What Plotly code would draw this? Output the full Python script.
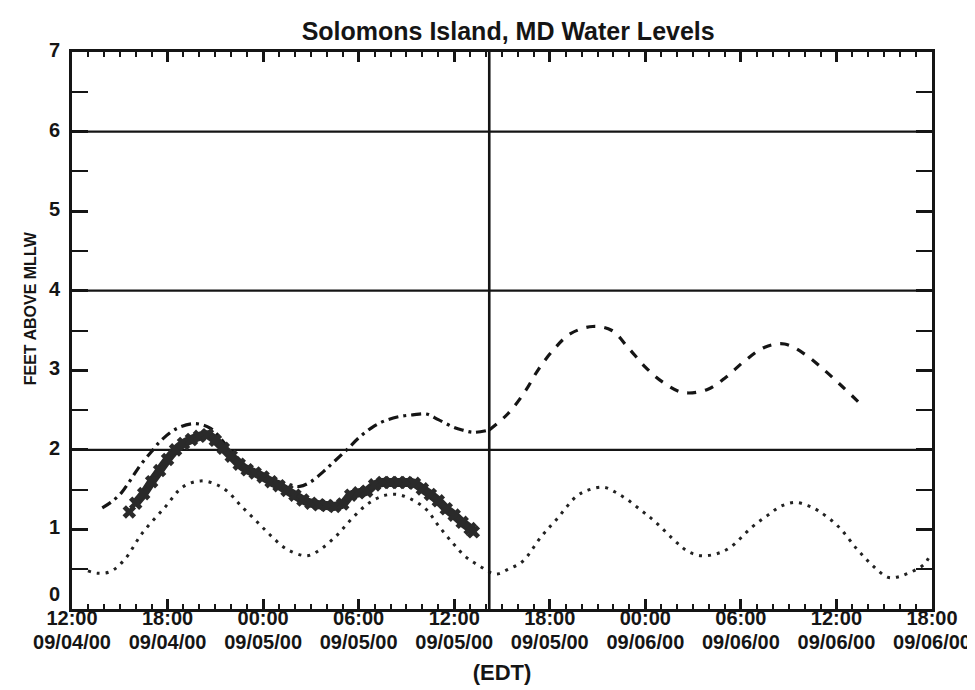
import pandas as pd
import plotly.graph_objects as go

# ---------------- data (hours after 09/04/00 12:00 EDT, feet above MLLW) ----------------
base_time = pd.Timestamp("2000-09-04 12:00")

pred_hours = [1.0, 1.6, 2.4, 3.3, 4.4, 5.8, 7.0, 8.1, 9.0, 9.75, 10.6, 11.6, 12.5, 13.5, 14.75,
              15.6, 16.6, 17.5, 18.5, 19.5, 20.4, 21.3, 22.25, 23.0, 23.9, 24.7, 25.6, 26.6,
              27.4, 28.3, 29.5, 30.4, 31.7, 32.5, 33.4, 34.1, 34.9, 35.8, 36.6, 38.0, 38.7,
              39.5, 40.4, 41.3, 42.7, 43.7, 44.5, 45.4, 46.2, 46.9, 48.1, 49.3, 50.2, 51.2,
              51.8, 52.4, 53.5, 53.9]
pred_level = [0.48, 0.45, 0.47, 0.62, 0.95, 1.27, 1.54, 1.61, 1.57, 1.48, 1.30, 1.10, 0.92, 0.75, 0.67,
              0.75, 0.92, 1.12, 1.31, 1.42, 1.44, 1.38, 1.25, 1.05, 0.83, 0.66, 0.54, 0.44,
              0.50, 0.60, 0.92, 1.12, 1.42, 1.50, 1.53, 1.47, 1.37, 1.23, 1.10, 0.83, 0.72,
              0.67, 0.69, 0.77, 1.03, 1.18, 1.29, 1.34, 1.30, 1.23, 1.04, 0.75, 0.56, 0.40,
              0.40, 0.44, 0.56, 0.69]

obs_hours = [3.6, 4.0, 4.5, 5.0, 5.5, 6.0, 6.5, 7.0, 7.5, 8.0, 8.5, 9.0, 9.5, 10.0, 10.5, 11.0,
             11.5, 12.0, 12.5, 13.0, 13.5, 14.0, 14.5, 15.0, 15.5, 16.0, 16.5, 17.0, 17.5, 18.0,
             18.5, 19.0, 19.5, 20.0, 20.5, 21.0, 21.5, 22.0, 22.5, 23.0, 23.5, 24.0, 24.5, 25.0, 25.2]
obs_level = [1.22, 1.33, 1.45, 1.60, 1.74, 1.88, 2.00, 2.08, 2.13, 2.17, 2.19, 2.12, 2.02, 1.92, 1.82, 1.75,
             1.71, 1.66, 1.60, 1.55, 1.49, 1.43, 1.37, 1.33, 1.31, 1.30, 1.29, 1.32, 1.43, 1.46,
             1.48, 1.56, 1.59, 1.59, 1.59, 1.59, 1.58, 1.51, 1.44, 1.36, 1.26, 1.18, 1.09, 1.01, 0.97]

adj_hours = [1.9, 2.5, 3.1, 3.7, 4.3, 5.0, 5.6, 6.6, 7.7, 8.7, 9.75, 10.5, 11.2, 12.0, 12.7, 13.5,
             14.3, 15.0, 15.8, 16.5, 17.25, 18.0, 18.9, 19.7, 20.6, 21.4, 22.25, 23.0, 23.9, 24.5,
             25.2, 26.2]
adj_level = [1.27, 1.35, 1.46, 1.63, 1.81, 1.98, 2.12, 2.27, 2.33, 2.27, 2.04, 1.88, 1.75, 1.67, 1.62, 1.57,
             1.54, 1.60, 1.73, 1.86, 2.00, 2.15, 2.29, 2.37, 2.42, 2.44, 2.45, 2.38, 2.29, 2.25,
             2.22, 2.25]

fcst_hours = [26.2, 27.4, 28.5, 29.25, 30.2, 31.3, 32.7, 33.9, 34.9, 36.0, 37.1, 38.4, 39.9, 41.1,
              42.25, 43.5, 44.75, 46.1, 47.25, 48.4, 49.6]
fcst_level = [2.25, 2.46, 2.75, 3.00, 3.25, 3.46, 3.55, 3.50, 3.29, 3.04, 2.85, 2.72, 2.76, 2.92,
              3.12, 3.29, 3.33, 3.19, 3.00, 2.79, 2.56]

now_hour = 26.2
grid_levels = [2, 4, 6]

tick_hours = [0, 6, 12, 18, 24, 30, 36, 42, 48, 54]
tick_time_labels = ["12:00", "18:00", "00:00", "06:00", "12:00", "18:00", "00:00", "06:00", "12:00", "18:00"]
tick_date_labels = ["09/04/00", "09/04/00", "09/05/00", "09/05/00", "09/05/00", "09/05/00",
                    "09/06/00", "09/06/00", "09/06/00", "09/06/00"]
y_ticks = [0, 1, 2, 3, 4, 5, 6, 7]
# the "0" label sits a little above its tick in the original (extra blank line lifts it)
y_tick_labels = ["0<br> ", "1", "2", "3", "4", "5", "6", "7"]


def to_time(hours):
    return [base_time + pd.Timedelta(hours=h) for h in hours]


INK = "#151515"
LABEL_FONT = dict(family="Liberation Sans, Arial, sans-serif", size=20, color=INK, weight="bold")

fig = go.Figure()

# predicted tide (dotted) - on overlay axis used for the date labels
fig.add_trace(go.Scatter(x=to_time(pred_hours), y=pred_level, mode="lines", xaxis="x2",
                         line=dict(color="#222", width=3, dash="3px,6px", shape="spline"),
                         showlegend=False, hoverinfo="skip"))
# adjusted prediction (dash-dot)
fig.add_trace(go.Scatter(x=to_time(adj_hours), y=adj_level, mode="lines",
                         line=dict(color=INK, width=3.2, dash="10px,5px,3px,5px", shape="spline"),
                         showlegend=False))
# forecast (dashed)
fig.add_trace(go.Scatter(x=to_time(fcst_hours), y=fcst_level, mode="lines",
                         line=dict(color=INK, width=3.2, dash="9px,9px", shape="spline"),
                         showlegend=False))
# observed (band of x markers)
fig.add_trace(go.Scatter(x=to_time(obs_hours[1:]), y=obs_level[1:], mode="lines",
                         line=dict(color="#2a2a2a", width=9, shape="spline"),
                         showlegend=False))
fig.add_trace(go.Scatter(x=to_time(obs_hours), y=obs_level, mode="markers",
                         marker=dict(symbol="x", size=12, color="#2a2a2a",
                                     line=dict(width=0)),
                         showlegend=False))

# grid lines and "now" line
for lvl in grid_levels:
    fig.add_shape(type="line", xref="paper", x0=0, x1=1, yref="y", y0=lvl, y1=lvl,
                  line=dict(color=INK, width=2.2), layer="below")
now_t = base_time + pd.Timedelta(hours=now_hour)
fig.add_shape(type="line", xref="x", x0=now_t, x1=now_t, yref="paper", y0=0, y1=1,
              line=dict(color=INK, width=2.6))

x_range = [base_time, base_time + pd.Timedelta(hours=54)]

fig.update_layout(
    width=975, height=690,
    margin=dict(l=64, r=45, t=44, b=89),
    paper_bgcolor="white", plot_bgcolor="white",
    title=dict(text="Solomons Island, MD Water Levels", x=0.513, xref="container", xanchor="center",
               y=1 - 23 / 690, yref="container", yanchor="middle",
               font=dict(family="Liberation Sans, Arial, sans-serif", size=25, color=INK, weight="bold")),
    xaxis=dict(type="date", range=x_range, tickmode="array", tickvals=to_time(tick_hours),
               ticktext=tick_time_labels, ticks="inside", ticklen=10, tickwidth=2.5, tickcolor=INK,
               minor=dict(ticks="inside", dtick=3600000, tick0=base_time, ticklen=5, tickwidth=2,
                          tickcolor=INK, showgrid=False),
               showline=True, linecolor=INK, linewidth=3, mirror="allticks", showgrid=False,
               zeroline=False, tickfont=LABEL_FONT, ticklabelstandoff=-11, fixedrange=True),
    xaxis2=dict(type="date", overlaying="x", matches="x", side="bottom", anchor="y",
                tickmode="array", tickvals=to_time(tick_hours), ticktext=tick_date_labels,
                ticks="", showline=False, showgrid=False, zeroline=False,
                tickfont=LABEL_FONT, ticklabelstandoff=19,
                title=dict(text="(EDT)", standoff=12,
                           font=dict(family="Liberation Sans, Arial, sans-serif", size=22,
                                     color=INK, weight="bold"))),
    yaxis=dict(range=[0, 7], tickmode="array", tickvals=y_ticks, ticktext=y_tick_labels,
               ticks="inside", ticklen=16, tickwidth=2.5, tickcolor=INK,
               minor=dict(ticks="inside", dtick=0.5, ticklen=8, tickwidth=2, tickcolor=INK, showgrid=False),
               showline=True, linecolor=INK, linewidth=3, mirror="allticks", showgrid=False,
               zeroline=False, tickfont=LABEL_FONT, ticklabelstandoff=5, ticklabelshift=-2,
               fixedrange=True),
    annotations=[dict(text="FEET ABOVE MLLW", textangle=-90, xref="paper", yref="paper",
                      x=(22 - 64) / 866, y=(601 - 300) / 557, xanchor="center", yanchor="middle",
                      showarrow=False,
                      font=dict(family="Liberation Sans, Arial, sans-serif", size=16, color=INK,
                                weight="bold"))],
)

fig.write_html("out.html")
